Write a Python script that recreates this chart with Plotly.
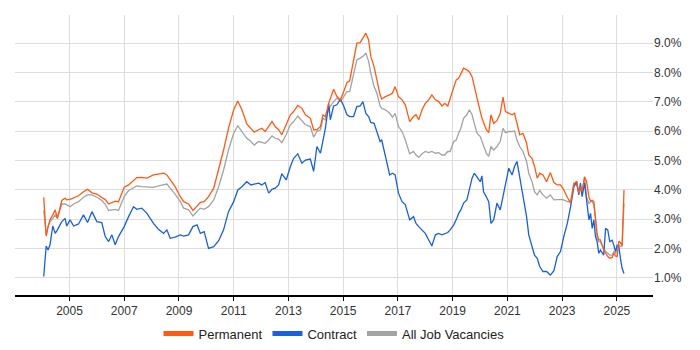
import datetime as dt
import plotly.graph_objects as go

# decimal-year positions of the samples
years = [
    2004.06, 2004.15, 2004.22, 2004.29, 2004.39, 2004.48, 2004.56, 2004.72, 2004.84, 2004.90,
    2005.02, 2005.15, 2005.33, 2005.51, 2005.66, 2005.82, 2006.00, 2006.18, 2006.30, 2006.43,
    2006.55, 2006.67, 2006.79, 2007.00, 2007.16, 2007.34, 2007.46, 2007.64, 2007.83, 2008.07,
    2008.25, 2008.44, 2008.56, 2008.68, 2008.86, 2009.05, 2009.17, 2009.35, 2009.51, 2009.66,
    2009.78, 2009.92, 2010.08, 2010.27, 2010.45, 2010.63, 2010.81, 2011.00, 2011.15, 2011.30,
    2011.48, 2011.63, 2011.75, 2011.91, 2012.03, 2012.15, 2012.28, 2012.40, 2012.52, 2012.64,
    2012.76, 2012.92, 2013.07, 2013.19, 2013.34, 2013.49, 2013.62, 2013.80, 2013.92, 2014.04,
    2014.17, 2014.26, 2014.35, 2014.47, 2014.53, 2014.65, 2014.77, 2014.90, 2015.02, 2015.14,
    2015.24, 2015.38, 2015.50, 2015.62, 2015.72, 2015.83, 2015.93, 2016.01, 2016.13, 2016.23,
    2016.35, 2016.41, 2016.54, 2016.70, 2016.80, 2016.90, 2017.02, 2017.15, 2017.27, 2017.43,
    2017.57, 2017.66, 2017.76, 2017.88, 2018.00, 2018.12, 2018.24, 2018.37, 2018.49, 2018.61,
    2018.71, 2018.82, 2018.91, 2019.04, 2019.13, 2019.22, 2019.30, 2019.40, 2019.52, 2019.61,
    2019.71, 2019.79, 2019.89, 2020.01, 2020.07, 2020.13, 2020.23, 2020.32, 2020.40, 2020.50,
    2020.62, 2020.74, 2020.84, 2020.93, 2021.05, 2021.17, 2021.26, 2021.35, 2021.45, 2021.57,
    2021.70, 2021.78, 2021.90, 2021.99, 2022.09, 2022.18, 2022.30, 2022.43, 2022.57, 2022.70,
    2022.82, 2022.94, 2023.06, 2023.19, 2023.31, 2023.43, 2023.53, 2023.61, 2023.67, 2023.73,
    2023.82, 2023.89, 2023.98, 2024.04, 2024.10, 2024.16, 2024.22, 2024.28, 2024.34, 2024.40,
    2024.52, 2024.59, 2024.67, 2024.74, 2024.83, 2024.89, 2024.95, 2025.01, 2025.07, 2025.13,
    2025.19, 2025.26,
]

permanent = [
    3.75, 2.43, 2.75, 2.98, 3.15, 3.32, 3.03, 3.64, 3.72, 3.66,
    3.68, 3.72, 3.80, 3.94, 4.02, 3.90, 3.86, 3.74, 3.68, 3.52,
    3.57, 3.62, 3.60, 4.09, 4.17, 4.34, 4.42, 4.43, 4.40, 4.51,
    4.55, 4.57, 4.51, 4.34, 4.11, 3.77, 3.60, 3.52, 3.30, 3.45,
    3.58, 3.60, 3.77, 4.06, 4.68, 5.36, 6.10, 6.73, 7.03, 6.73,
    6.25, 6.10, 5.97, 6.05, 6.10, 5.99, 6.16, 6.33, 6.16, 6.05,
    5.88, 6.22, 6.56, 6.67, 6.88, 6.78, 6.56, 6.44, 6.05, 6.05,
    6.16, 6.56, 6.50, 6.95, 7.10, 7.43, 7.18, 7.07, 7.35, 7.66,
    7.72, 8.43, 9.00, 9.02, 9.17, 9.34, 9.11, 8.55, 8.20, 7.75,
    7.24, 7.10, 7.18, 7.24, 7.30, 7.52, 7.18, 7.07, 6.90, 6.33,
    6.50, 6.56, 6.39, 6.73, 6.95, 7.07, 7.24, 7.07, 7.01, 6.86,
    6.95, 6.86, 7.13, 7.47, 7.75, 7.80, 7.95, 8.15, 8.09, 8.03,
    7.86, 7.52, 7.07, 6.67, 6.45, 6.27, 6.05, 5.95, 6.56, 6.27,
    6.36, 6.61, 7.16, 6.67, 6.61, 6.56, 6.61, 6.22, 5.88, 5.93,
    5.59, 5.19, 5.08, 4.80, 4.40, 4.57, 4.51, 4.28, 4.59, 4.25,
    4.17, 4.17, 4.00, 3.75, 3.55, 4.20, 4.30, 3.90, 4.10, 3.95,
    4.45, 4.30, 3.75, 3.62, 3.65, 3.60, 3.15, 2.50, 2.30, 2.30,
    1.95, 1.84, 1.73, 1.67, 1.70, 1.84, 1.75, 1.73, 2.25, 2.20,
    2.10, 4.00,
]

contract = [
    1.05, 2.09, 1.95, 2.13, 2.77, 2.52, 2.64, 2.92, 3.03, 2.77,
    2.98, 2.77, 2.84, 3.15, 2.89, 3.26, 2.92, 2.89, 2.43, 2.24,
    2.47, 2.13, 2.41, 2.75, 3.09, 3.43, 3.34, 3.38, 3.20, 2.86,
    2.66, 2.52, 2.64, 2.35, 2.39, 2.47, 2.43, 2.47, 2.75, 2.81,
    2.52, 2.58, 2.01, 2.07, 2.27, 2.64, 3.26, 3.60, 4.00, 4.11,
    4.28, 4.17, 4.20, 4.23, 4.17, 4.25, 3.89, 4.02, 4.06, 4.17,
    4.55, 4.34, 4.80, 5.08, 5.23, 4.91, 5.02, 5.05, 4.63, 5.48,
    5.25, 5.70, 6.10, 6.95, 6.39, 6.86, 6.90, 7.09, 6.86, 6.56,
    6.50, 6.50, 6.84, 6.86, 7.01, 6.61, 6.50, 6.30, 6.27, 5.99,
    5.65, 5.70, 5.14, 4.51, 4.57, 4.51, 3.89, 3.60, 3.49, 2.98,
    3.09, 2.86, 2.75, 2.64, 2.52, 2.30, 2.09, 2.47, 2.52, 2.47,
    2.52, 2.55, 2.64, 2.81, 2.98, 3.20, 3.32, 3.55, 3.66, 4.06,
    4.40, 4.57, 4.45, 4.28, 4.48, 3.94, 3.77, 3.60, 2.86, 2.98,
    3.55, 3.32, 3.77, 4.17, 4.74, 4.51, 4.80, 4.97, 4.45, 3.77,
    3.09, 2.47, 2.07, 1.78, 1.67, 1.39, 1.22, 1.22, 1.10, 1.25,
    1.73, 1.90, 2.41, 2.86, 3.43, 4.11, 4.28, 3.83, 4.23, 3.77,
    4.23, 3.66, 2.98, 3.20, 2.69, 2.98, 2.41, 2.24, 1.84, 1.95,
    1.78, 2.69, 2.63, 2.24, 2.29, 2.12, 1.90, 2.12, 2.07, 1.67,
    1.33, 1.15,
]

all_jobs = [
    3.30, 2.47, 2.75, 2.92, 3.03, 3.15, 3.03, 3.52, 3.52, 3.49,
    3.43, 3.52, 3.60, 3.75, 3.83, 3.83, 3.75, 3.64, 3.52, 3.30,
    3.32, 3.34, 3.30, 3.77, 3.98, 4.09, 4.14, 4.11, 4.09, 4.09,
    4.14, 4.17, 4.20, 4.06, 3.86, 3.60, 3.38, 3.32, 3.11, 3.26,
    3.38, 3.34, 3.43, 3.66, 4.11, 4.68, 5.36, 5.93, 6.19, 5.99,
    5.76, 5.65, 5.53, 5.65, 5.61, 5.59, 5.70, 5.84, 5.76, 5.73,
    5.61, 5.88, 6.22, 6.33, 6.52, 6.36, 6.22, 6.16, 5.80, 5.99,
    6.05, 6.44, 6.39, 6.73, 6.85, 7.01, 7.13, 7.01, 7.18, 7.35,
    7.35, 7.98, 8.43, 8.49, 8.55, 8.66, 8.38, 7.98, 7.52, 7.30,
    6.86, 6.78, 6.73, 6.61, 6.48, 6.61, 6.16, 5.99, 5.70, 5.23,
    5.31, 5.19, 5.11, 5.23, 5.31, 5.27, 5.31, 5.25, 5.27, 5.19,
    5.19, 5.31, 5.31, 5.65, 5.70, 5.93, 6.10, 6.44, 6.56, 6.73,
    6.56, 6.27, 5.93, 5.82, 5.65, 5.48, 5.25, 5.14, 5.48, 5.36,
    5.48, 5.65, 6.10, 5.95, 5.99, 5.99, 6.01, 5.70, 5.48, 5.31,
    4.97, 4.57, 4.28, 3.94, 3.83, 3.98, 3.83, 3.72, 3.83, 3.66,
    3.68, 3.68, 3.66, 3.60, 3.60, 4.23, 4.17, 3.94, 4.05, 3.88,
    4.40, 3.77, 3.54, 3.60, 3.60, 3.49, 2.98, 2.35, 2.24, 2.24,
    2.01, 1.90, 1.84, 1.78, 1.78, 1.90, 1.84, 2.01, 2.12, 2.07,
    2.09, 3.54,
]

x_ticks = [2005, 2007, 2009, 2011, 2013, 2015, 2017, 2019, 2021, 2023, 2025]
y_ticks = [1, 2, 3, 4, 5, 6, 7, 8, 9]


def to_date(y):
    yr = int(y)
    return dt.datetime(yr, 1, 1) + dt.timedelta(days=(y - yr) * 365.25)


dates = [to_date(y) for y in years]

fig = go.Figure()
series = [
    ("Permanent", permanent, "#FF5A14"),
    ("Contract", contract, "#1A5FDC"),
    ("All Job Vacancies", all_jobs, "#A3A3A3"),
]
# draw grey first so orange/blue sit on top
for name, vals, col in [series[2], series[1], series[0]]:
    fig.add_trace(go.Scatter(
        x=dates, y=vals, mode="lines", name=name,
        line=dict(color=col, width=1.3), showlegend=False,
    ))
# legend entries with thick swatches
for name, vals, col in series:
    fig.add_trace(go.Scatter(
        x=[None], y=[None], mode="lines", name=name,
        line=dict(color=col, width=5), showlegend=True,
    ))

# page body has an 8px margin; figure sized to fit inside the window
fig.update_layout(
    width=692, height=334,
    margin=dict(l=7, r=47, t=7, b=47, autoexpand=False),
    paper_bgcolor="white", plot_bgcolor="white",
    font=dict(family="Liberation Sans, Arial, sans-serif", size=12, color="#333333"),
    showlegend=True,
    legend=dict(orientation="h", x=0.5, xanchor="center",
                yref="container", y=0.025, yanchor="middle",
                font=dict(size=13, color="#222222"), itemwidth=30,
                traceorder="normal"),
)
fig.update_xaxes(
    type="date", automargin=False,
    range=[to_date(2003.01), to_date(2026.32)],
    tickvals=[dt.datetime(y, 1, 1) for y in x_ticks],
    ticktext=[str(y) for y in x_ticks],
    showgrid=True, gridcolor="#DDDDDD", gridwidth=1,
    showline=True, linecolor="#000000", linewidth=1.5,
    ticks="outside", ticklen=4, tickcolor="#000000",
    zeroline=False,
)
fig.update_yaxes(
    range=[0.42, 9.96], side="right", automargin=False,
    tickvals=y_ticks, ticktext=[f"{v:.1f}%" for v in y_ticks],
    showgrid=True, gridcolor="#DDDDDD", gridwidth=1,
    showline=False, zeroline=False, ticks="",
)

fig.write_html("out.html")
